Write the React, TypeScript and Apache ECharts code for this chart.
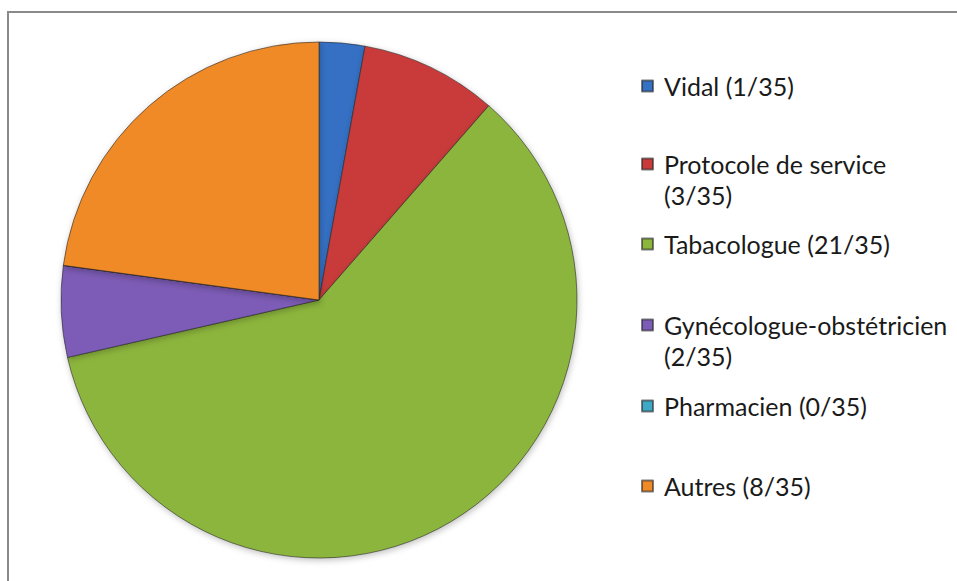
import React, { useEffect, useRef } from 'react';
import * as echarts from 'echarts';

const categories = ['Vidal', 'Protocole de service', 'Tabacologue', 'Gynécologue-obstétricien', 'Pharmacien', 'Autres'];
const counts = [1, 3, 21, 2, 0, 8];
const total = 35;
const colors = ['#3470c4', '#c93b3b', '#8cb53c', '#7c5cb6', '#3ea8c6', '#f08a26'];
const wrapLegend = [false, true, false, true, false, false];

export default function App() {
  const ref = useRef<HTMLDivElement>(null);
  useEffect(() => {
    const chart = echarts.init(ref.current!, null, { renderer: 'svg' });
    const lineH = 31;
    const firstLineCenters = [86, 164, 244, 325, 406, 486];
    const legends = categories.map((name, i) => {
      const h = wrapLegend[i] ? 3 * lineH : lineH;
      return {
        data: [name],
        left: 641,
        top: firstLineCenters[i] - h / 2,
        padding: 0,
        itemWidth: 11,
        itemHeight: 11,
        icon: 'rect',
        selectedMode: false,
        formatter: (n: string) =>
          wrapLegend[i] ? `\n${n}\n(${counts[i]}/${total})` : `${n} (${counts[i]}/${total})`,
        textStyle: {
          fontFamily: 'Lato',
          fontSize: 25,
          color: '#1a1a1a',
          lineHeight: lineH,
          padding: [0, 0, 0, 6],
        },
      };
    });
    chart.setOption({
      animation: false,
      backgroundColor: '#ffffff',
      color: colors,
      legend: legends,
      graphic: [
        {
          type: 'rect',
          shape: { x: 8, y: 12, width: 1000, height: 1000 },
          style: { fill: 'none', stroke: '#8a8a8a', lineWidth: 2 },
          silent: true,
        },
      ],
      series: [
        {
          type: 'pie',
          center: [319, 300],
          radius: 258,
          startAngle: 90,
          clockwise: true,
          label: { show: false },
          labelLine: { show: false },
          emphasis: { disabled: true },
          itemStyle: {
            borderColor: 'rgba(40,40,40,0.6)',
            borderWidth: 1,
            shadowBlur: 6,
            shadowColor: 'rgba(0,0,0,0.25)',
            shadowOffsetX: 1,
            shadowOffsetY: 2,
          },
          data: categories.map((name, i) => ({ name, value: counts[i] })),
        },
      ],
    });
    return () => chart.dispose();
  }, []);
  return (
    <div
      ref={ref}
      style={{ position: 'fixed', left: 0, top: 0, width: 957, height: 581 }}
    />
  );
}
